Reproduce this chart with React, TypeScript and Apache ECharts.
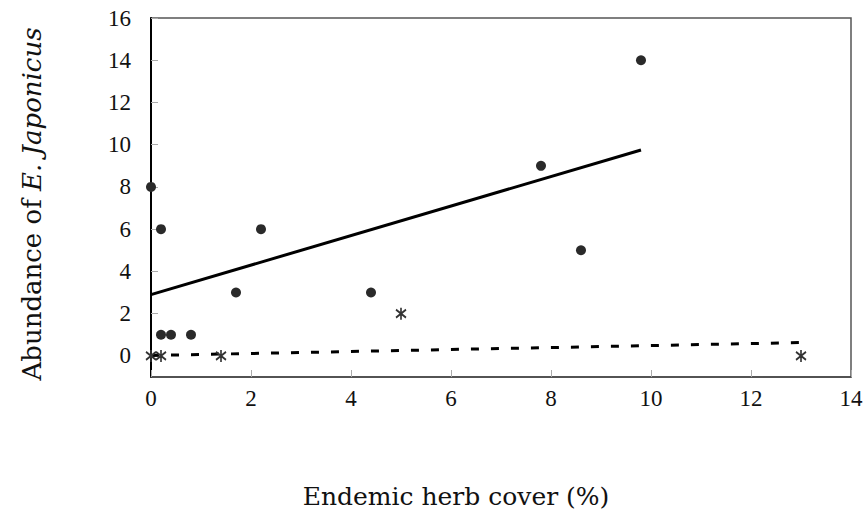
import React, { useEffect, useRef } from "react";
import * as echarts from "echarts";

const circleX = [0, 0.2, 0.2, 0.4, 0.8, 1.7, 2.2, 4.4, 7.8, 8.6, 9.8];
const circleY = [8, 6, 1, 1, 1, 3, 6, 3, 9, 5, 14];
const starX = [0, 0.2, 1.4, 5, 13];
const starY = [0, 0, 0, 2, 0];
const solidLineX = [0, 9.8];
const solidLineY = [2.9, 9.75];
const dashLineX = [0, 13];
const dashLineY = [0.02, 0.63];
const yTicks = [0, 2, 4, 6, 8, 10, 12, 14, 16];

const starPath = "path://M5 0 L5 12 M0.5 2 L9.5 10 M0.5 10 L9.5 2";

export default function App() {
  const ref = useRef<HTMLDivElement>(null);
  useEffect(() => {
    const chart = echarts.init(ref.current!, null, { renderer: "svg" });
    const font = "'Liberation Serif', 'Times New Roman', serif";
    const titleFont = "'DejaVu Serif', serif";
    chart.setOption({
      animation: false,
      backgroundColor: "#fff",
      grid: {
        left: 151,
        top: 18,
        width: 700,
        height: 359,
        show: true,
        borderColor: "#555",
        borderWidth: 1.5,
      },
      xAxis: {
        type: "value",
        min: 0,
        max: 14,
        interval: 2,
        axisLine: { show: true, onZero: false, lineStyle: { color: "#444", width: 1.5 } },
        axisTick: { show: true, inside: true, length: 7, lineStyle: { color: "#aaa" } },
        splitLine: { show: false },
        axisLabel: { color: "#111", fontFamily: font, fontSize: 23, margin: 10 },
      },
      yAxis: {
        type: "value",
        min: -1,
        max: 16,
        axisLine: { show: true, onZero: false, lineStyle: { color: "#000", width: 2 } },
        axisTick: {
          show: true,
          inside: true,
          length: 7,
          customValues: yTicks,
          lineStyle: { color: "#aaa" },
        },
        splitLine: { show: false },
        axisLabel: {
          color: "#111",
          fontFamily: font,
          fontSize: 23,
          margin: 20,
          customValues: yTicks,
        },
      },
      graphic: [
        {
          type: "text",
          x: 456,
          y: 496,
          style: {
            text: "Endemic herb cover (%)",
            fontFamily: titleFont,
            fontSize: 25,
            fill: "#111",
            align: "center",
            verticalAlign: "middle",
          },
        },
        {
          type: "text",
          x: 32,
          y: 204,
          rotation: Math.PI / 2,
          style: {
            text: "Abundance of {i|E.} {i|Japonicus}",
            fontFamily: titleFont,
            fontSize: 26,
            fill: "#111",
            align: "center",
            verticalAlign: "middle",
            rich: {
              i: { fontFamily: titleFont, fontSize: 26, fontStyle: "italic", fill: "#111" },
            },
          },
        },
      ],
      series: [
        {
          type: "line",
          data: solidLineX.map((x, i) => [x, solidLineY[i]]),
          symbol: "none",
          lineStyle: { color: "#000", width: 3 },
          z: 2,
        },
        {
          type: "line",
          data: dashLineX.map((x, i) => [x, dashLineY[i]]),
          symbol: "none",
          lineStyle: { color: "#000", width: 3, type: [8, 12] },
          z: 2,
        },
        {
          type: "scatter",
          data: circleX.map((x, i) => [x, circleY[i]]),
          symbol: "circle",
          symbolSize: 10,
          itemStyle: { color: "#2a2a2a", opacity: 1 },
          z: 3,
        },
        {
          type: "scatter",
          data: starX.map((x, i) => [x, starY[i]]),
          symbol: starPath,
          symbolSize: [10, 12],
          itemStyle: {
            color: "none",
            borderColor: "#333",
            borderWidth: 1.8,
            opacity: 1,
          },
          z: 3,
        },
      ],
    });
    return () => chart.dispose();
  }, []);
  return (
    <div
      ref={ref}
      style={{ position: "fixed", left: 0, top: 0, width: 868, height: 513 }}
    />
  );
}
